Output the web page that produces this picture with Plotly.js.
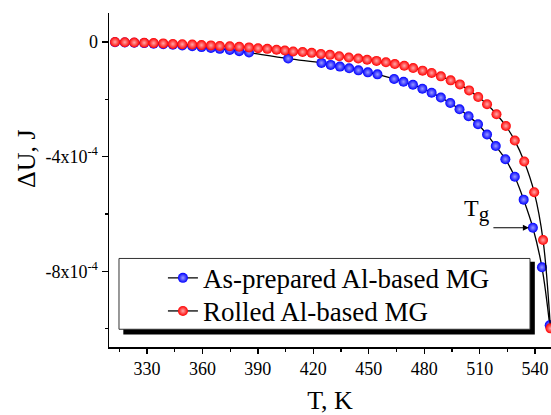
<!DOCTYPE html>
<html>
<head>
<meta charset="utf-8">
<script src="https://cdn.plot.ly/plotly-3.0.1.min.js"></script>
<style>html,body{margin:0;padding:0;background:#fff;}#chart{width:551px;height:415px;}</style>
</head>
<body>
<div id="chart"></div>
<script>
// Rolled Al-based MG
var rolledT = [312.7, 318.0, 323.1, 328.5, 333.6, 338.8, 344.0, 349.1, 354.5, 359.5, 364.6, 369.4, 374.8, 379.9, 385.2, 390.1, 395.1, 400.1, 404.6, 409.1, 414.2, 419.1, 424.1, 429.0, 434.0, 439.2, 444.3, 449.1, 454.2, 459.3, 464.1, 469.2, 474.0, 479.1, 484.0, 489.0, 494.3, 499.3, 504.3, 509.2, 514.0, 519.1, 524.2, 529.0, 534.1, 539.5, 544.3, 548.3];
var rolledU = [0.00, -0.01, -0.02, -0.03, -0.04, -0.05, -0.07, -0.08, -0.09, -0.11, -0.12, -0.14, -0.15, -0.17, -0.19, -0.22, -0.24, -0.27, -0.30, -0.33, -0.35, -0.38, -0.42, -0.45, -0.50, -0.54, -0.58, -0.62, -0.66, -0.71, -0.77, -0.83, -0.91, -1.00, -1.08, -1.20, -1.34, -1.48, -1.69, -1.92, -2.17, -2.52, -2.93, -3.44, -4.17, -5.24, -6.91, -9.99];
// As-prepared Al-based MG
var asprepT = [312.7, 318.0, 323.1, 328.5, 333.6, 338.8, 344.0, 349.1, 354.5, 359.5, 364.6, 369.4, 374.8, 379.9, 385.2, 406.4, 424.4, 429.4, 434.4, 439.4, 444.4, 449.5, 454.7, 463.7, 468.8, 473.9, 479.0, 484.0, 489.0, 494.1, 499.1, 504.0, 509.1, 514.0, 518.7, 523.9, 529.0, 533.8, 538.8, 543.7, 547.9];
var asprepU = [-0.01, -0.02, -0.03, -0.04, -0.06, -0.08, -0.10, -0.12, -0.15, -0.18, -0.21, -0.24, -0.28, -0.32, -0.37, -0.58, -0.73, -0.80, -0.86, -0.92, -0.99, -1.06, -1.13, -1.29, -1.39, -1.49, -1.63, -1.77, -1.94, -2.13, -2.35, -2.59, -2.87, -3.23, -3.63, -4.09, -4.70, -5.50, -6.48, -7.86, -9.88];
var seriesNames = ['As-prepared Al-based MG', 'Rolled Al-based MG'];
var yTickVals = [0, -4e-4, -8e-4];
var yTickText = ['0', '-4x10<sup>-4</sup>', '-8x10<sup>-4</sup>'];
var TgIndex = 38;

function scale(arr){ return arr.map(function(v){ return v * 1e-4; }); }

var serif = 'Liberation Serif, Times New Roman, serif';

var traces = [
  {
    x: asprepT, y: scale(asprepU), name: seriesNames[0], type: 'scatter', mode: 'lines+markers',
    legend: 'legend',
    line: {color: '#000', width: 1.3, shape: 'spline'},
    marker: {color: '#0000ff', size: 10, line: {width: 0}, gradient: {type: 'radial', color: '#9a9aff'}},
    cliponaxis: false
  },
  {
    x: rolledT, y: scale(rolledU), name: seriesNames[1], type: 'scatter', mode: 'lines+markers',
    legend: 'legend2',
    line: {color: '#000', width: 1.3, shape: 'spline'},
    marker: {color: '#ff0000', size: 10, line: {width: 0}, gradient: {type: 'radial', color: '#ffa8a8'}},
    cliponaxis: false
  }
];

var legendCommon = {
  xanchor: 'left', yanchor: 'top',
  bgcolor: 'rgba(0,0,0,0)', borderwidth: 0,
  font: {family: serif, size: 27, color: '#000'}
};

var layout = {
  width: 551, height: 415,
  margin: {l: 109, r: 0, t: 13, b: 68},
  paper_bgcolor: '#fff', plot_bgcolor: '#fff',
  font: {family: serif, color: '#000', size: 18},
  showlegend: true,
  legend: Object.assign({x: 0.122, y: 0.279}, legendCommon),
  legend2: Object.assign({x: 0.122, y: 0.180}, legendCommon),
  xaxis: {
    range: [309.45, 548.6],
    showgrid: false, zeroline: false,
    showline: true, linecolor: '#000', linewidth: 1.5,
    ticks: 'outside', ticklen: 5, tickwidth: 1.3, tickcolor: '#000',
    tick0: 330, dtick: 30,
    minor: {dtick: 15, tick0: 315, ticks: 'outside', ticklen: 3, tickwidth: 1.2, tickcolor: '#000'},
    tickfont: {family: serif, size: 18, color: '#000'},
    title: {text: 'T, K', font: {family: serif, size: 26, color: '#000'}, standoff: 15}
  },
  yaxis: {
    range: [-10.64e-4, 1.01e-4],
    showgrid: false, zeroline: false,
    showline: true, linecolor: '#000', linewidth: 1.5,
    ticks: 'outside', ticklen: 6, tickwidth: 1.3, tickcolor: '#000',
    tickmode: 'array', tickvals: yTickVals, ticktext: yTickText,
    minor: {dtick: 2e-4, tick0: 0, ticks: 'outside', ticklen: 3, tickwidth: 1.2, tickcolor: '#000'},
    tickfont: {family: serif, size: 18, color: '#000'}
  },
  shapes: [
    {type: 'rect', xref: 'paper', yref: 'paper', x0: 0.0324, x1: 0.9634, y0: 0.0372, y1: 0.255,
     fillcolor: '#000', line: {width: 0}, layer: 'above'},
    {type: 'rect', xref: 'paper', yref: 'paper', x0: 0.0226, x1: 0.9525, y0: 0.0531, y1: 0.2651,
     fillcolor: '#fff', line: {color: '#333', width: 1}, layer: 'above'}
  ],
  annotations: [
    {text: 'ΔU, J', xref: 'paper', yref: 'paper', x: -0.1855, y: 0.563, textangle: -90,
     showarrow: false, xanchor: 'center', yanchor: 'middle',
     font: {family: serif, size: 26, color: '#000'}},
    {text: '', x: asprepT[TgIndex], y: asprepU[TgIndex] * 1e-4, xref: 'x', yref: 'y',
     showarrow: true, ax: -41, ay: 0, arrowhead: 2, arrowsize: 1, arrowwidth: 1.2, arrowcolor: '#000', standoff: 4},
    {text: 'T<sub><span style="font-size:21px">g</span></sub>', x: asprepT[TgIndex], y: asprepU[TgIndex] * 1e-4, xref: 'x', yref: 'y',
     showarrow: false, xshift: -56, yshift: 17,
     font: {family: serif, size: 24, color: '#000'}}
  ]
};

Plotly.newPlot('chart', traces, layout, {displayModeBar: false, staticPlot: true});
</script>
</body>
</html>
